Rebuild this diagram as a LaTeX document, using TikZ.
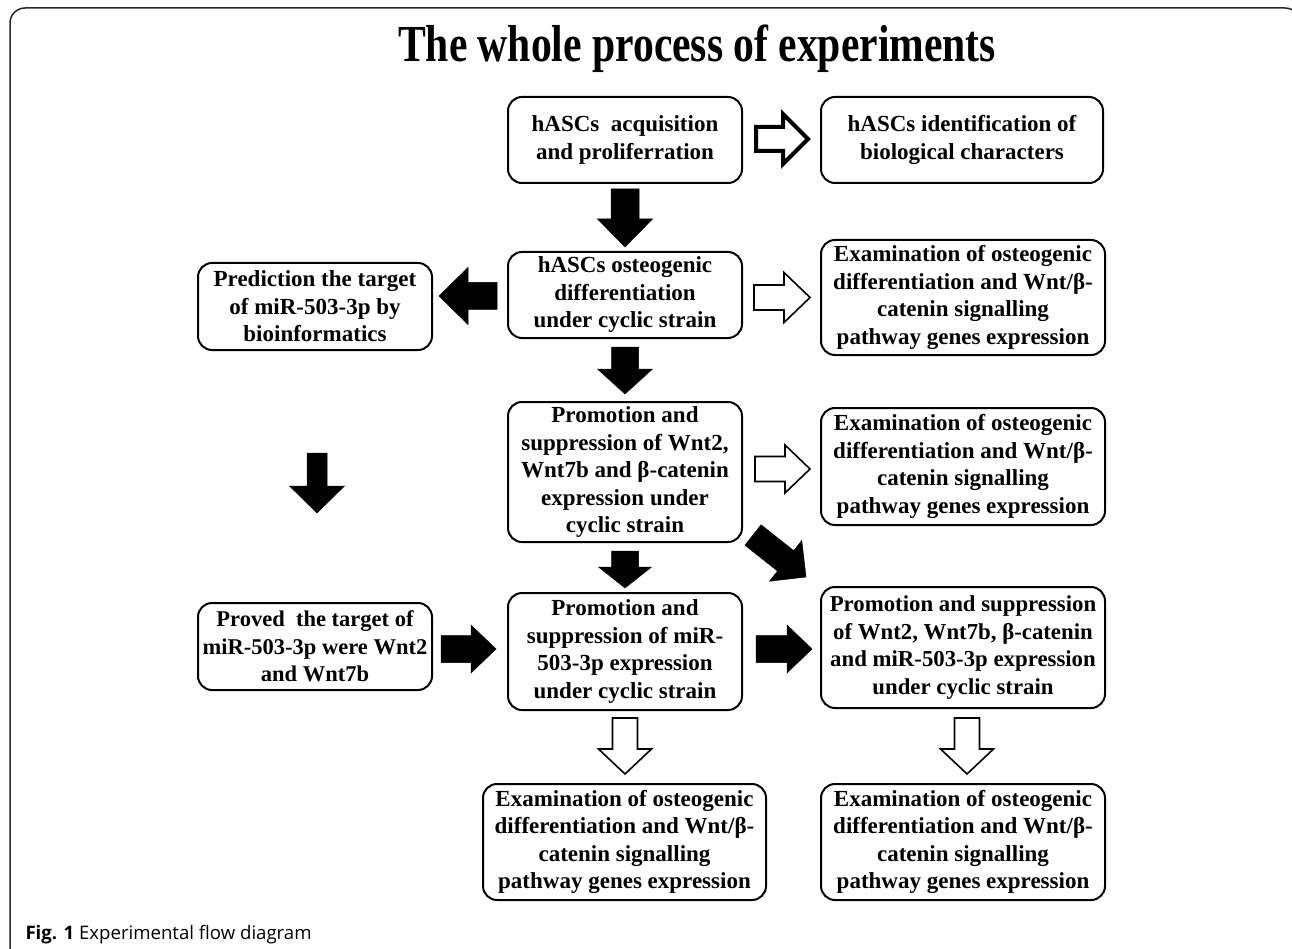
\documentclass[tikz,border=0pt]{standalone}
\usepackage{graphicx}
\usepackage{fontspec}
\setmainfont{Liberation Serif}
\newfontfamily\capfont{Open Sans}
\usetikzlibrary{calc}

% block arrow: [style]{tail}{tip}{half shaft}{half head}{head length}
\newcommand{\blockarrow}[6][]{%
  \coordinate (ba-h) at ($(#3)!#6!(#2)$);
  \draw[#1] ($(#2)!#4!90:(#3)$) -- ($(ba-h)!#4!90:(#3)$) -- ($(ba-h)!#5!90:(#3)$) -- (#3)
    -- ($(ba-h)!#5!-90:(#3)$) -- ($(ba-h)!#4!-90:(#3)$) -- ($(#2)!#4!-90:(#3)$) -- cycle;}

\tikzset{
  box/.style={draw, line width=2pt, rounded corners=14pt, align=center, inner sep=0pt,
    font=\fontsize{23}{27.5}\selectfont\bfseries},
  solidarrow/.style={fill=black, draw=black, line width=0.5pt, line join=miter},
  hollowarrow/.style={fill=white, draw=black, line width=1.6pt, line join=miter},
  thickhollow/.style={fill=white, draw=black, line width=4pt, line join=miter},
}

\begin{document}
\begin{tikzpicture}[x=1pt, y=-1pt]
\useasboundingbox (0,0) rectangle (1292,949);
\clip (0,0) rectangle (1292,949);
\fill[white] (0,0) rectangle (1292,949);

% outer frame
\draw[line width=1.5pt, black!85, rounded corners=15pt] (10,962) -- (10,8) -- (1300,8) -- (1300,962);

% title
\node[anchor=base west, inner sep=0pt, font=\fontsize{52}{58}\selectfont\bfseries] (title) at (398,62) {\scalebox{0.8}[1]{The whole process of experiments}};

% boxes
\node[box, minimum width=234pt, minimum height=86pt] (b1) at (625,140) {hASCs\ \ acquisition\\and proliferration};
\node[box, minimum width=282pt, minimum height=86pt] (b2) at (962,140) {hASCs identification of\\biological characters};
\node[box, minimum width=234pt, minimum height=86pt] (b3) at (625,295) {hASCs osteogenic\\differentiation\\under cyclic strain};
\node[box, minimum width=234pt, minimum height=87pt] (b4) at (315,306.5) {Prediction the target\\of miR-503-3p by\\bioinformatics};
\node[box, minimum width=284pt, minimum height=115pt] (b5) at (963,297.5) {Examination of osteogenic\\differentiation and Wnt/β-\\catenin signalling\\pathway genes expression};
\node[box, minimum width=234pt, minimum height=140pt] (b6) at (625,472) {Promotion and\\suppression of Wnt2,\\Wnt7b and β-catenin\\expression under\\cyclic strain};
\node[box, minimum width=284pt, minimum height=117pt] (b7) at (963,466.5) {Examination of osteogenic\\differentiation and Wnt/β-\\catenin signalling\\pathway genes expression};
\node[box, minimum width=234pt, minimum height=87pt, font=\fontsize{22.5}{27.5}\selectfont\bfseries] (b8) at (315,646.5) {Proved\ \ the target of\\miR-503-3p were Wnt2\\and Wnt7b};
\node[box, minimum width=234pt, minimum height=117pt] (b9) at (625,651.5) {Promotion and\\suppression of miR-\\503-3p expression\\under cyclic strain};
\node[box, minimum width=284pt, minimum height=121pt, font=\fontsize{22.8}{27.5}\selectfont\bfseries] (b10) at (963,647.5) {Promotion and suppression\\of Wnt2, Wnt7b, β-catenin\\and miR-503-3p expression\\under cyclic strain};
\node[box, minimum width=283pt, minimum height=116pt] (b11) at (624.5,842) {Examination of osteogenic\\differentiation and Wnt/β-\\catenin signalling\\pathway genes expression};
\node[box, minimum width=284pt, minimum height=116pt] (b12) at (963,842) {Examination of osteogenic\\differentiation and Wnt/β-\\catenin signalling\\pathway genes expression};

% arrow end points
\coordinate (a1s) at ($(b1.east)+(13,-1)$);
\coordinate (a1e) at ($(b2.west)+(-12,-1)$);
\coordinate (a2s) at ($(b1.south)+(0,5)$);
\coordinate (a2e) at ($(b3.north)+(0,-4)$);
\coordinate (a3s) at ($(b3.west)+(-10,1)$);
\coordinate (a3e) at ($(b4.east |- b3.west)+(6,1)$);
\coordinate (a4s) at ($(b3.east)+(11,2.5)$);
\coordinate (a4e) at ($(b5.west)+(-10,0)$);
\coordinate (a5s) at ($(b3.south)+(0,8)$);
\coordinate (a5e) at ($(b6.north)+(0,-7)$);
\coordinate (a6s) at ($(b6.east)+(12,-3)$);
\coordinate (a6e) at ($(b7.west)+(-10,2.5)$);
\coordinate (a7s) at ($(b6.south east)+(10,-8)$);
\coordinate (a7e) at ($(b10.north west)+(-14,-9)$);
\coordinate (a8s) at ($(b6.south)+(0,8)$);
\coordinate (a8e) at ($(b9.north)+(0,-4)$);
\coordinate (a9s) at (317,453);
\coordinate (a9e) at (317,513);
\coordinate (a10s) at ($(b8.east)+(8,2.5)$);
\coordinate (a10e) at ($(b9.west)+(-11,-2.5)$);
\coordinate (a11s) at ($(b9.east)+(13,-2.5)$);
\coordinate (a11e) at ($(b10.west)+(-8,1.5)$);
\coordinate (a12s) at ($(b9.south)+(0,7)$);
\coordinate (a12e) at ($(b11.north)+(0.5,-9)$);
\coordinate (a13s) at ($(b10.south)+(4,9)$);
\coordinate (a13e) at ($(b12.north)+(4,-9)$);

% arrows
\blockarrow[thickhollow]{a1s}{a1e}{12pt}{25pt}{25pt}
\blockarrow[solidarrow]{a2s}{a2e}{14pt}{27.5pt}{28pt}
\blockarrow[solidarrow]{a3s}{a3e}{13.5pt}{28.5pt}{29pt}
\blockarrow[hollowarrow]{a4s}{a4e}{12.5pt}{25pt}{26pt}
\blockarrow[solidarrow]{a5s}{a5e}{13.5pt}{27.5pt}{25pt}
\blockarrow[hollowarrow]{a6s}{a6e}{12.5pt}{24pt}{25pt}
\blockarrow[solidarrow]{a7s}{a7e}{13pt}{26pt}{26pt}
\blockarrow[solidarrow]{a8s}{a8e}{13.5pt}{26.5pt}{21pt}
\blockarrow[solidarrow]{a9s}{a9e}{10pt}{27.5pt}{27pt}
\blockarrow[solidarrow]{a10s}{a10e}{13.5pt}{24pt}{25pt}
\blockarrow[solidarrow]{a11s}{a11e}{13.5pt}{24pt}{25pt}
\blockarrow[hollowarrow]{a12s}{a12e}{12.5pt}{26.5pt}{25pt}
\blockarrow[hollowarrow]{a13s}{a13e}{12.5pt}{26.5pt}{25pt}

% caption
\node[anchor=base west, font=\capfont\fontsize{18.6}{21}\selectfont] (cap) at (22,939) {\textbf{Fig. 1} Experimental flow diagram};
\end{tikzpicture}
\end{document}
